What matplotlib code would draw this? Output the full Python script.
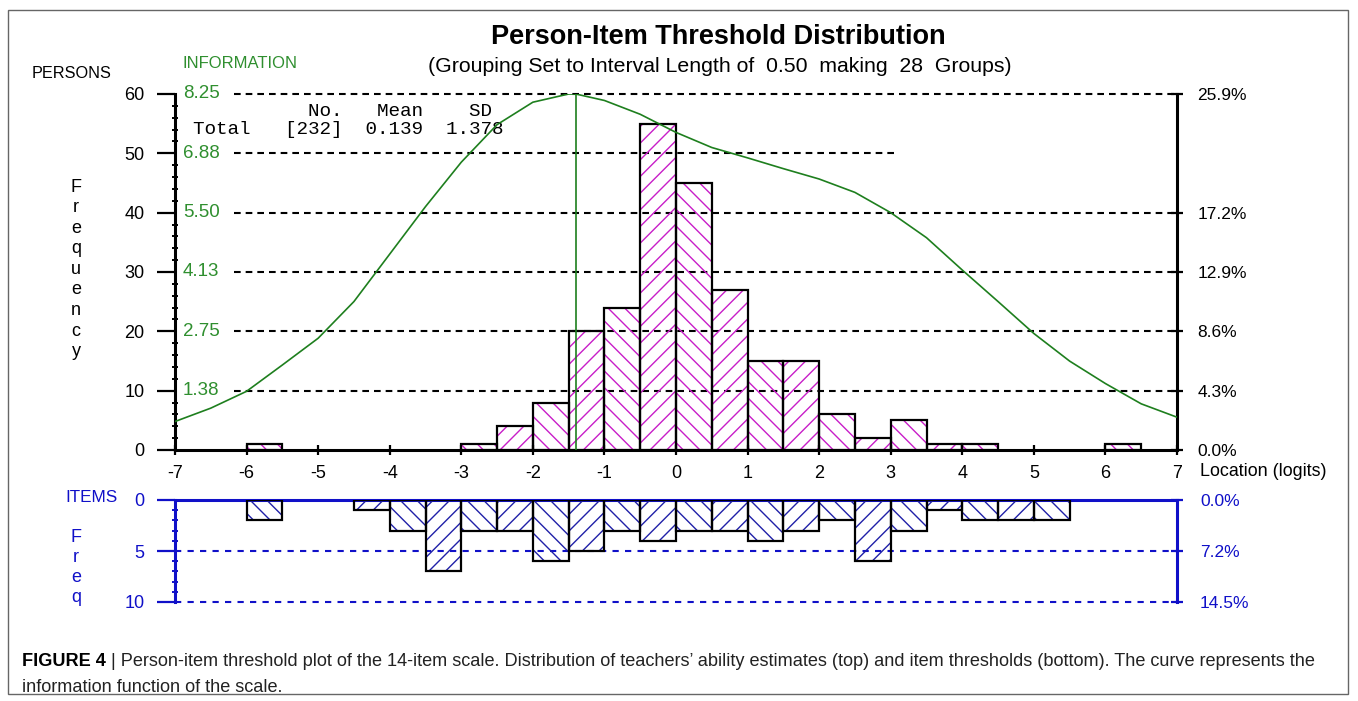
import numpy as np
import matplotlib
matplotlib.use("Agg")
import matplotlib.pyplot as plt
from matplotlib.patches import Rectangle
import matplotlib.transforms as mtransforms

plt.rcParams['font.family'] = ['Liberation Sans', 'DejaVu Sans']
plt.rcParams['hatch.linewidth'] = 1.0

# ---------------- data ----------------
BIN_START = -7.0
BIN_WIDTH = 0.50
person_counts = [0, 0, 1, 0, 0, 0, 0, 0, 1, 4, 8, 20, 24, 55,
                 45, 27, 15, 15, 6, 2, 5, 1, 1, 0, 0, 0, 1, 0]
item_counts = [0, 0, 2, 0, 0, 1, 3, 7, 3, 3, 6, 5, 3, 4,
               3, 3, 4, 3, 2, 6, 3, 1, 2, 2, 2, 0, 0, 0]
PERSON_TOTAL = 232
ITEM_TOTAL = 69
person_mean = 0.139
person_sd = 1.378

info_x = [-7, -6.5, -6, -5.5, -5, -4.5, -4, -3.5, -3, -2.5, -2, -1.5, -1.4,
          -1, -0.5, 0, 0.5, 1, 1.5, 2, 2.5, 3, 3.5, 4, 4.5, 5, 5.5, 6, 6.5, 7]
info_y = [0.66, 0.97, 1.36, 1.97, 2.59, 3.44, 4.54, 5.64, 6.67, 7.54, 8.06,
          8.25, 8.25, 8.10, 7.78, 7.36, 7.01, 6.77, 6.52, 6.28, 5.97, 5.50,
          4.92, 4.17, 3.44, 2.70, 2.06, 1.54, 1.07, 0.76]
info_peak_location = -1.4
INFO_MAX = 8.25

x_ticks = list(range(-7, 8))
freq_ticks = [0, 10, 20, 30, 40, 50, 60]
pct_ticks = [0, 10, 20, 30, 40, 60]
info_label_freq = [60, 50, 40, 30, 20, 10]
info_labels = ["8.25", "6.88", "5.50", "4.13", "2.75", "1.38"]
item_ticks = [0, 5, 10]

# ---------------- style ----------------
W, H = 1358, 701
MAGENTA = '#c81ec8'
BLUE_H = '#2020a8'
BLUE = '#1010c8'
GREEN_LINE = '#1e7f1e'
GREEN_TXT = '#2f8f2f'
TICK_FS = 13


def fx(px):
    return px / W


def fy(py):
    return 1 - py / H


fig = plt.figure(figsize=(W / 100, H / 100), dpi=100)

left_px, right_px = 175, 1177
ax = fig.add_axes([fx(left_px), fy(450), fx(right_px) - fx(left_px), fy(94) - fy(450)])
ax.set_xlim(-7, 7)
ax.set_ylim(0, 60)
ax.patch.set_alpha(0)

edges = BIN_START + BIN_WIDTH * np.arange(len(person_counts))
hatches = ['\\\\' if i % 2 == 0 else '//' for i in range(len(person_counts))]


def draw_bars(a, counts, hcolor):
    counts = np.asarray(counts)
    idx = np.nonzero(counts)[0]
    hb = a.bar(edges[idx], counts[idx], width=BIN_WIDTH, align='edge',
               fill=False, linewidth=0, edgecolor=hcolor, zorder=2)
    for r, i in zip(hb, idx):
        r.set_hatch(hatches[i])
    a.bar(edges[idx], counts[idx], width=BIN_WIDTH, align='edge',
          fill=False, linewidth=1.6, edgecolor='black', zorder=3)


draw_bars(ax, person_counts, MAGENTA)

# dashed grid lines
ax.hlines([10, 20, 30, 40, 60], -6.17, 7, colors='black',
          linestyles=(0, (3.2, 2.4)), lw=1.5, zorder=1, clip_on=False)
ax.hlines([50], -6.17, 3.07, colors='black',
          linestyles=(0, (3.2, 2.4)), lw=1.5, zorder=1, clip_on=False)

for s in ['top', 'right']:
    ax.spines[s].set_visible(False)
for s in ['left', 'bottom']:
    ax.spines[s].set_linewidth(2.2)
    ax.spines[s].set_color('black')
    ax.spines[s].set_zorder(4)

ax.set_yticks(freq_ticks)
ax.set_yticks(np.arange(0, 61, 2), minor=True)
ax.tick_params(axis='y', which='major', direction='out', length=13, width=1.6,
               pad=9, labelsize=TICK_FS)
ax.tick_params(axis='y', which='minor', direction='inout', length=5, width=1.4)
ax.set_xticks(x_ticks)
ax.set_xticklabels([str(t) for t in x_ticks])
ax.tick_params(axis='x', which='major', direction='inout', length=7, width=1.6,
               pad=7, labelsize=TICK_FS)

# right percentage axis
ax_pct = ax.twinx()
ax_pct.set_ylim(0, 60)
for s in ['top', 'left', 'bottom']:
    ax_pct.spines[s].set_visible(False)
ax_pct.spines['right'].set_linewidth(2.2)
ax_pct.set_yticks(pct_ticks)
ax_pct.set_yticklabels([f"{v / PERSON_TOTAL * 100:.1f}%" for v in pct_ticks])
ax_pct.tick_params(axis='y', direction='inout', length=9, width=1.6, pad=10,
                   labelsize=12.5)

# information curve
ax_info = ax.twinx()
ax_info.set_ylim(0, INFO_MAX)
ax_info.axis('off')
ax_info.plot(info_x, info_y, color=GREEN_LINE, lw=1.2, zorder=5)
ax_info.vlines(info_peak_location, 0, max(info_y), color=GREEN_LINE, lw=1.2)

blend = mtransforms.blended_transform_factory(ax.transAxes, ax.transData)
for fr, lab in zip(info_label_freq, info_labels):
    ax.text(0.008, fr, lab, transform=blend, color=GREEN_TXT, fontsize=13.5,
            ha='left', va='center')

# stats text
mono = 'Liberation Mono'
ax.text(fx(193), fy(111), "          No.   Mean    SD", transform=fig.transFigure,
        family=mono, fontsize=13.9, va='center', ha='left')
ax.text(fx(193), fy(130), f"Total   [{PERSON_TOTAL}]  {person_mean:.3f}  {person_sd:.3f}",
        transform=fig.transFigure, family=mono, fontsize=13.9, va='center', ha='left')

# ---------------- items panel ----------------
axi = fig.add_axes([fx(left_px), fy(602), fx(right_px) - fx(left_px), fy(500) - fy(602)])
axi.set_xlim(-7, 7)
axi.set_ylim(10, 0)
axi.patch.set_alpha(0)
draw_bars(axi, item_counts, BLUE_H)
axi.hlines([5, 10], -7, 7, colors=BLUE, linestyles=(0, (3, 3)), lw=1.5, zorder=1,
           clip_on=False)
for s in ['bottom', 'right']:
    axi.spines[s].set_visible(False)
for s in ['left', 'top']:
    axi.spines[s].set_linewidth(2.2)
    axi.spines[s].set_color(BLUE)
    axi.spines[s].set_zorder(1.5)
axi.set_xticks([])
axi.set_yticks(item_ticks)
axi.set_yticks(np.arange(0, 11, 1), minor=True)
axi.tick_params(axis='y', which='major', direction='out', length=13, width=1.6,
                pad=9, labelsize=TICK_FS, color=BLUE, labelcolor=BLUE)
axi.tick_params(axis='y', which='minor', direction='inout', length=5, width=1.4,
                color=BLUE)

axi_pct = axi.twinx()
axi_pct.set_ylim(10, 0)
for s in ['top', 'left', 'bottom']:
    axi_pct.spines[s].set_visible(False)
axi_pct.spines['right'].set_linewidth(2.2)
axi_pct.spines['right'].set_color(BLUE)
axi_pct.set_yticks(item_ticks)
axi_pct.set_yticklabels([f"{v / ITEM_TOTAL * 100:.1f}%" for v in item_ticks])
axi_pct.tick_params(axis='y', direction='inout', length=9, width=1.6, pad=12,
                    labelsize=12.5, color=BLUE, labelcolor=BLUE)

# ---------------- texts ----------------
fig.text(fx(718), fy(37), "Person-Item Threshold Distribution", ha='center', va='center',
         fontsize=19.5, weight='bold')
fig.text(fx(720), fy(67), "(Grouping Set to Interval Length of  0.50  making  28  Groups)",
         ha='center', va='center', fontsize=15.3)
fig.text(fx(32), fy(73), "PERSONS", ha='left', va='center', fontsize=11.7)
fig.text(fx(183), fy(63), "INFORMATION", ha='left', va='center', fontsize=12,
         color=GREEN_TXT)
for i, ch in enumerate("Frequency"):
    fig.text(fx(76), fy(187 + i * 20.6), ch, ha='center', va='center', fontsize=13)
fig.text(fx(65), fy(497), "ITEMS", ha='left', va='center', fontsize=12.3, color=BLUE)
for i, ch in enumerate("Freq"):
    fig.text(fx(76), fy(538 + i * 20), ch, ha='center', va='center', fontsize=13,
             color=BLUE)
fig.text(fx(1200), fy(472), "Location (logits)", ha='left', va='center', fontsize=12.9)

# caption
CAP_FS = 13.1
t1 = fig.text(fx(22), fy(661), "FIGURE 4", ha='left', va='center', fontsize=CAP_FS,
              weight='bold')
fig.canvas.draw()
bb = t1.get_window_extent()
fig.text(bb.x1 / W + fx(5), fy(661),
         "| Person-item threshold plot of the 14-item scale. Distribution of teachers\u2019 ability "
         "estimates (top) and item thresholds (bottom). The curve represents the",
         ha='left', va='center', fontsize=CAP_FS, color='#222222')
fig.text(fx(22), fy(687), "information function of the scale.", ha='left', va='center',
         fontsize=CAP_FS, color='#222222')

fig.add_artist(Rectangle((fx(8), fy(694)), fx(1348) - fx(8), fy(10) - fy(694),
                         transform=fig.transFigure, fill=False, edgecolor='#666666', lw=1))

fig.savefig("out.png", dpi=100)
